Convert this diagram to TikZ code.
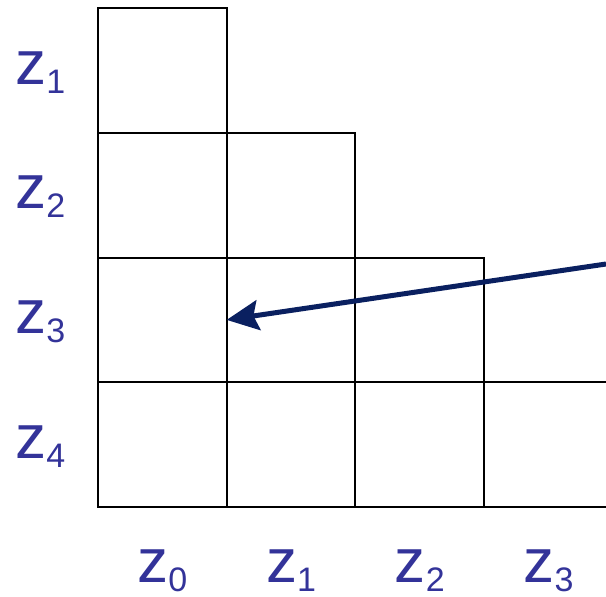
\documentclass[tikz,border=0pt]{standalone}
\usepackage{fontspec}
\setmainfont{Liberation Sans}
\usepackage{tikz}
\usetikzlibrary{arrows.meta}
\usepackage{xcolor}
\definecolor{zblue}{HTML}{333399}
\definecolor{arrownavy}{HTML}{0A2060}

\newcommand{\zsub}[1]{z\fontsize{17}{17}\selectfont\raisebox{-4.5pt}{#1}}

\tikzset{
  cell/.style={draw, line width=1pt, minimum width=64.35pt,
               minimum height=62.4pt, inner sep=0pt, outer sep=0pt},
  zlabel/.style={text=zblue, inner sep=0pt, font=\fontsize{31}{31}\selectfont}
}

\begin{document}
\begin{tikzpicture}[x=0.5pt, y=-0.5pt]
      \useasboundingbox (0,0) rectangle (606,596);
      % staircase of cells
      \foreach \c in {0,...,3}
        \foreach \r in {\c,...,3}
          \node[cell] (cell-\c-\r) at ({162.35+128.7*\c}, {70.4+124.75*\r}) {};
      % row labels
      \foreach \r [evaluate=\r as \ry using 84+124.75*(\r-1)] in {1,...,4}
        \node[zlabel, anchor=base west] (row-\r) at (15,\ry) {\zsub{\r}};
      % column labels
      \foreach \c [evaluate=\c as \cx using 137+128.7*\c] in {0,...,3}
        \node[zlabel, anchor=base west] (col-\c) at (\cx,582) {\zsub{\c}};
      \coordinate (src) at (606,264);
      \draw[-{Stealth[length=16pt, width=15pt, inset=2.5pt]}, line width=2.5pt,
            arrownavy] (src) -- (cell-1-2.west);
    \end{tikzpicture}
\end{document}
